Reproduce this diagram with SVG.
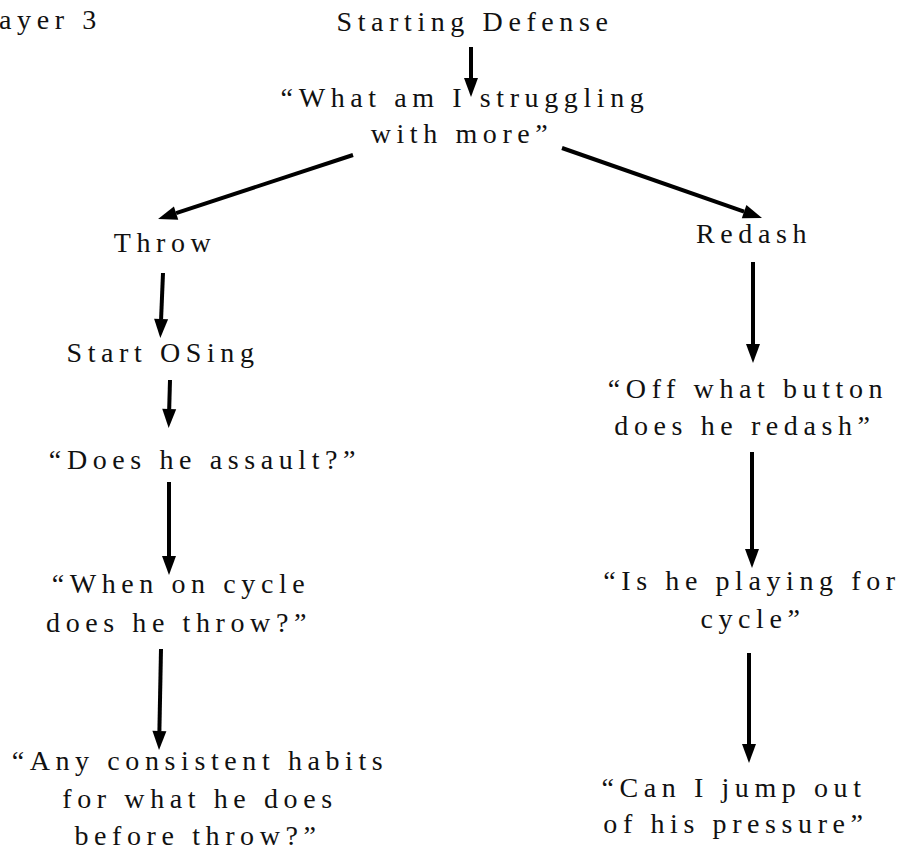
<svg xmlns="http://www.w3.org/2000/svg" width="900" height="853" viewBox="0 0 900 853">
  <defs>
    <style>
      .t { font-size: 28px; letter-spacing: 5.6px; fill: #111; text-anchor: middle; }
      .c { stroke: #000; stroke-width: 4; fill: none; marker-end: url(#head); }
    </style>
    <marker id="head" markerUnits="userSpaceOnUse" markerWidth="20" markerHeight="14" refX="0" refY="7" orient="auto" overflow="visible">
      <path d="M0,0 L19,7 L0,14 Z" fill="#000"/>
    </marker>
  </defs>
  <rect width="900" height="853" fill="#fff"/>

  <!-- connectors -->
  <g id="connectors">
    <line class="c" x1="471" y1="47" x2="471" y2="78"/>
    <line class="c" x1="353" y1="155" x2="176.1" y2="213.1"/>
    <line class="c" x1="562" y1="148" x2="744.1" y2="211.7"/>
    <line class="c" x1="163" y1="273" x2="161.1" y2="319"/>
    <line class="c" x1="170" y1="380" x2="169.2" y2="409"/>
    <line class="c" x1="169" y1="482" x2="169" y2="556"/>
    <line class="c" x1="161" y1="649" x2="159.4" y2="731"/>
    <line class="c" x1="753" y1="262" x2="753" y2="344"/>
    <line class="c" x1="752" y1="452" x2="752" y2="549"/>
    <line class="c" x1="749" y1="653" x2="749" y2="744"/>
  </g>

  <!-- nodes -->
  <g font-family="Liberation Serif, DejaVu Serif, serif">
  <g id="player">
    <text class="t" x="-1" y="29" style="text-anchor:start">ayer 3</text>
  </g>
  <g id="start">
    <text class="t" x="475" y="31">Starting Defense</text>
  </g>
  <g id="question">
    <text class="t" x="465" y="107">“What am I struggling</text>
    <text class="t" x="462" y="143">with more”</text>
  </g>
  <g id="throw">
    <text class="t" x="165" y="252">Throw</text>
  </g>
  <g id="redash">
    <text class="t" x="754" y="243">Redash</text>
  </g>
  <g id="start-osing">
    <text class="t" x="163" y="362">Start OSing</text>
  </g>
  <g id="assault">
    <text class="t" x="205" y="469">“Does he assault?”</text>
  </g>
  <g id="cycle-throw">
    <text class="t" x="181" y="593">“When on cycle</text>
    <text class="t" x="179" y="632">does he throw?”</text>
  </g>
  <g id="habits">
    <text class="t" x="200" y="770">“Any consistent habits</text>
    <text class="t" x="200" y="808">for what he does</text>
    <text class="t" x="198" y="845">before throw?”</text>
  </g>
  <g id="button">
    <text class="t" x="748" y="398">“Off what button</text>
    <text class="t" x="745" y="435">does he redash”</text>
  </g>
  <g id="playing">
    <text class="t" x="752" y="590">“Is he playing for</text>
    <text class="t" x="753" y="628">cycle”</text>
  </g>
  <g id="jump">
    <text class="t" x="734" y="797">“Can I jump out</text>
    <text class="t" x="736" y="833">of his pressure”</text>
  </g>
  </g>
</svg>
